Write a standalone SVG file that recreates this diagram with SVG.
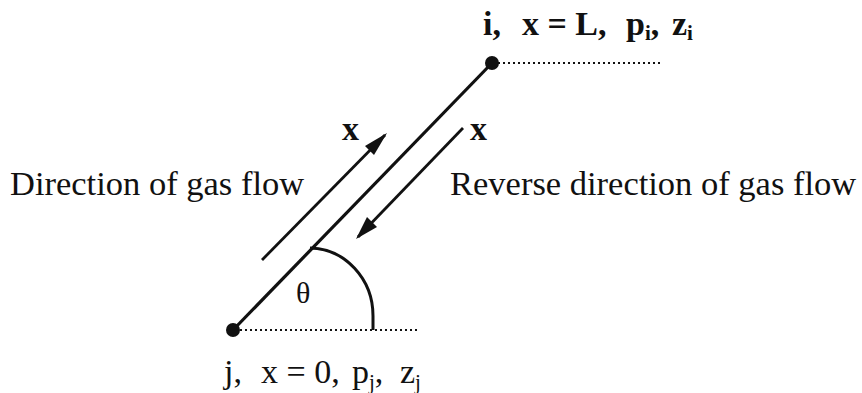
<svg xmlns="http://www.w3.org/2000/svg" width="862" height="393" viewBox="0 0 862 393">
<style>
.t{font-family:"Liberation Serif","Times New Roman",serif;font-size:34px;fill:#111}
.m{font-size:34.5px}
.b{font-weight:bold}
.s{font-size:21px}
.ln{stroke:#111;fill:none}
.dot{stroke:#111;stroke-width:2;stroke-dasharray:2 3;fill:none}
</style>
<rect width="862" height="393" fill="#fff"/>
<g id="connectors">
<line class="ln" x1="233" y1="330" x2="492" y2="63" stroke-width="3.2"/>
<line class="dot" x1="498" y1="63" x2="660" y2="63"/>
<line class="dot" x1="240" y1="330" x2="420" y2="330"/>
<path class="ln" d="M310,248 A64 68 0 0 1 373 316 L373 330" stroke-width="3"/>
<line class="ln" x1="262" y1="260" x2="385" y2="135" stroke-width="2.8"/>
<path d="M387,133 L365,146 L374,155 Z" fill="#111"/>
<line class="ln" x1="463" y1="128" x2="358" y2="237" stroke-width="2.8"/>
<path d="M356,239 L367,217 L377,227 Z" fill="#111"/>
</g>
<g id="node-i">
<circle cx="492" cy="63" r="7" fill="#111"/>
<text class="t b" x="483" y="35">i,</text>
<text class="t b" x="522" y="35">x = L,</text>
<text class="t b" x="626" y="35">p<tspan class="s" dy="5">i</tspan><tspan dy="-5">,</tspan></text>
<text class="t b" x="672" y="35">z<tspan class="s" dy="5">i</tspan></text>
</g>
<g id="node-j">
<circle cx="233" cy="330" r="7" fill="#111"/>
<text class="t" x="224" y="383">j,</text>
<text class="t" x="261" y="383">x = 0,</text>
<text class="t" x="352" y="383">p<tspan class="s" dy="6">j</tspan><tspan dy="-6">,</tspan></text>
<text class="t" x="400" y="383">z<tspan class="s" dy="6">j</tspan></text>
</g>
<g id="labels">
<text class="t m" x="10" y="195">Direction of gas flow</text>
<text class="t m" x="450" y="195">Reverse direction of gas flow</text>
<text class="t b" x="342" y="140">x</text>
<text class="t b" x="470" y="140">x</text>
<text class="t" x="296" y="303" style="font-size:30px">θ</text>
</g>
</svg>
